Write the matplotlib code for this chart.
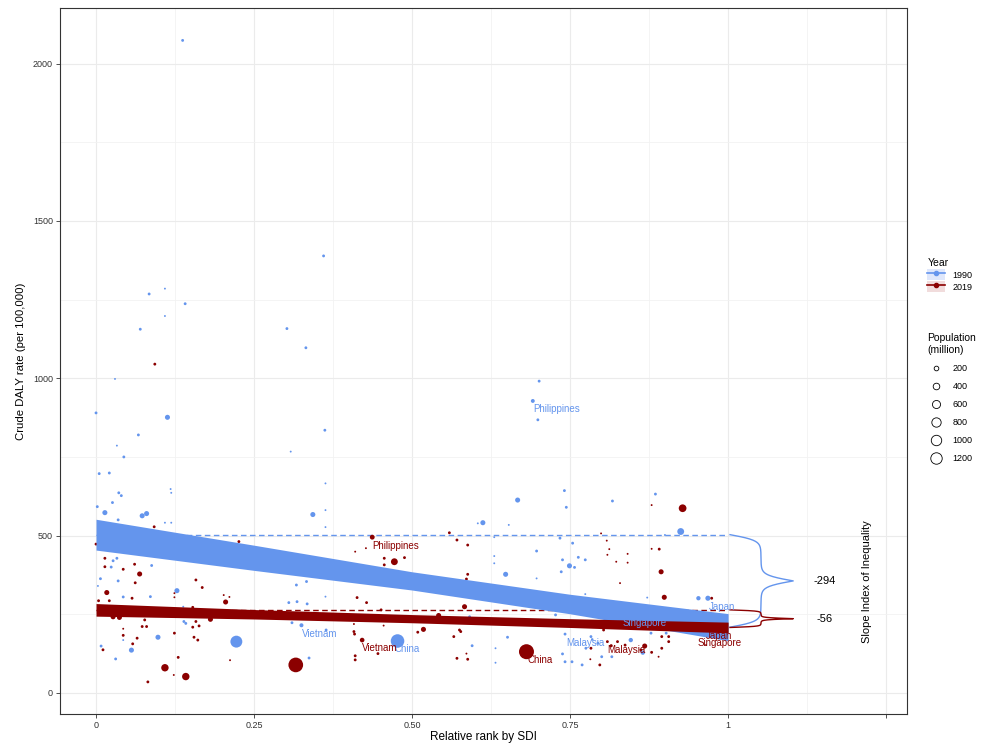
import matplotlib.pyplot as plt
import numpy as np
from matplotlib.lines import Line2D
from matplotlib.patches import Rectangle
from matplotlib.legend_handler import HandlerTuple

plt.rcParams['font.family'] = ['Liberation Sans', 'DejaVu Sans']

blue = '#6495ED'
red = '#8B0000'

# 1990: relative rank by SDI, crude DALY rate, population (million)
rank_1990 = [0.002, 0.014, 0.036, 0.040, 0.026, 0.035, 0.073, 0.080, 0.118, 0.119,
             0.109, 0.119, 0.027, 0.033, 0.024, 0.088, 0.007, 0.003, 0.035, 0.043,
             0.086, 0.128, 0.138, 0.139, 0.142, 0.043, 0.098, 0.056, 0.008, 0.031,
             0.222, 0.317, 0.333, 0.343, 0.363, 0.363, 0.363, 0.305, 0.318, 0.334,
             0.363, 0.310, 0.325, 0.364, 0.337, 0.477, 0.595, 0.591, 0.604, 0.741,
             0.885, 0.667, 0.744, 0.817, 0.612, 0.653, 0.925, 0.734, 0.754, 0.630,
             0.630, 0.630, 0.697, 0.738, 0.763, 0.774, 0.749, 0.757, 0.736, 0.648,
             0.697, 0.774, 0.872, 0.953, 0.968, 0.727, 0.742, 0.651, 0.783, 0.794,
             0.775, 0.738, 0.742, 0.753, 0.769, 0.632, 0.632, 0.800, 0.816, 0.846,
             0.865, 0.878, 0.902, 0.900, 0.360, 0.084, 0.109, 0.141, 0.109, 0.070,
             0.302, 0.332, 0.030, 0.000, 0.113, 0.067, 0.033, 0.044, 0.005, 0.021,
             0.362, 0.308, 0.137, 0.701, 0.691, 0.699, 0.785, 0.860]
daly_1990 = [592, 573, 636, 627, 605, 550, 563, 570, 648, 636,
             541, 541, 420, 428, 400, 405, 363, 340, 356, 305,
             306, 325, 274, 227, 221, 168, 177, 136, 149, 108,
             163, 343, 354, 567, 666, 581, 527, 287, 290, 283,
             306, 223, 215, 200, 111, 165, 150, 242, 539, 643,
             632, 613, 590, 610, 541, 534, 513, 492, 476, 495,
             435, 412, 451, 423, 431, 423, 404, 399, 385, 377,
             364, 314, 303, 301, 301, 248, 187, 177, 179, 158,
             142, 124, 99, 99, 89, 142, 96, 115, 115, 168,
             128, 190, 190, 502, 1389, 1268, 1285, 1237, 1198, 1156,
             1158, 1097, 998, 890, 876, 820, 786, 750, 697, 699,
             835, 767, 2074, 991, 928, 868, 170, 205]
pop_1990 = [25, 120, 25, 25, 25, 25, 120, 120, 6, 6,
            6, 6, 25, 25, 25, 25, 25, 6, 25, 25,
            25, 120, 6, 25, 25, 6, 120, 120, 25, 25,
            870, 25, 25, 120, 6, 6, 6, 25, 25, 25,
            6, 25, 66, 25, 25, 1150, 25, 25, 6, 25,
            25, 120, 25, 25, 120, 6, 250, 25, 25, 6,
            6, 6, 25, 25, 25, 25, 120, 25, 25, 120,
            6, 6, 6, 80, 123, 25, 25, 25, 25, 25,
            25, 25, 25, 25, 25, 6, 6, 25, 25, 80,
            80, 25, 25, 6, 25, 25, 6, 25, 6, 25,
            25, 25, 6, 25, 120, 25, 6, 25, 25, 25,
            25, 6, 25, 25, 61, 25, 18, 3]

# 2019
rank_2019 = [0.000, 0.092, 0.226, 0.014, 0.014, 0.043, 0.061, 0.069, 0.062, 0.017,
             0.057, 0.004, 0.021, 0.158, 0.168, 0.124, 0.124, 0.202, 0.211, 0.205,
             0.153, 0.027, 0.037, 0.077, 0.181, 0.158, 0.163, 0.153, 0.073, 0.080,
             0.043, 0.043, 0.124, 0.155, 0.161, 0.065, 0.058, 0.011, 0.130, 0.212,
             0.109, 0.142, 0.123, 0.082, 0.316, 0.410, 0.427, 0.437, 0.456, 0.456,
             0.472, 0.488, 0.413, 0.428, 0.451, 0.408, 0.408, 0.409, 0.421, 0.410,
             0.410, 0.446, 0.455, 0.498, 0.509, 0.518, 0.542, 0.566, 0.575, 0.577,
             0.571, 0.588, 0.586, 0.583, 0.588, 0.586, 0.588, 0.559, 0.571, 0.093,
             0.928, 0.879, 0.891, 0.879, 0.799, 0.808, 0.812, 0.809, 0.823, 0.841,
             0.841, 0.894, 0.829, 0.899, 0.974, 0.803, 0.809, 0.825, 0.837, 0.868,
             0.862, 0.879, 0.894, 0.895, 0.906, 0.906, 0.895, 0.890, 0.783, 0.797,
             0.782, 0.965, 0.681, 0.815]
daly_2019 = [473, 528, 481, 428, 401, 393, 409, 378, 350, 319,
             301, 293, 293, 359, 335, 317, 304, 311, 305, 289,
             272, 242, 240, 232, 234, 227, 213, 209, 211, 211,
             204, 183, 190, 177, 168, 174, 156, 137, 113, 104,
             80, 52, 57, 35, 89, 449, 460, 495, 428, 407,
             417, 430, 303, 287, 264, 219, 195, 187, 168, 118,
             105, 125, 214, 227, 193, 202, 246, 179, 200, 195,
             110, 107, 125, 274, 377, 362, 470, 509, 486, 1045,
             587, 597, 457, 458, 507, 484, 457, 439, 417, 442,
             414, 385, 349, 304, 301, 200, 163, 163, 152, 149,
             137, 129, 202, 179, 179, 163, 142, 115, 142, 89,
             107, 152, 131, 150]
pop_2019 = [25, 25, 25, 25, 25, 25, 25, 120, 25, 120,
            25, 25, 25, 25, 25, 6, 6, 6, 6, 120,
            25, 120, 120, 25, 120, 25, 25, 25, 25, 25,
            6, 25, 25, 25, 25, 25, 25, 25, 25, 6,
            300, 300, 6, 25, 1366, 6, 6, 108, 25, 25,
            250, 25, 25, 25, 25, 6, 25, 25, 96, 25,
            25, 25, 6, 25, 25, 120, 120, 25, 25, 25,
            25, 25, 6, 120, 25, 25, 25, 25, 25, 25,
            330, 6, 25, 6, 6, 6, 6, 6, 6, 6,
            6, 120, 6, 120, 25, 25, 25, 25, 25, 120,
            25, 25, 25, 25, 25, 25, 25, 6, 25, 25,
            6, 6, 1430, 32]

# regression: value at rank 0 and slope index of inequality
intercept_1990, sii_1990 = 503, -294
intercept_2019, sii_2019 = 264, -56

# half width of the confidence band along the rank axis
band_x = [0, 0.25, 0.5, 0.75, 1]
halfwidth_1990 = [49, 40, 29, 31, 43]
halfwidth_2019 = [20, 15, 13, 14, 17]

# labelled countries: name, rank, rate
labels_1990 = [('Philippines', 0.691, 902), ('Vietnam', 0.326, 188), ('China', 0.472, 140),
               ('Malaysia', 0.744, 159), ('Singapore', 0.833, 222), ('Japan', 0.970, 273)]
labels_2019 = [('Philippines', 0.437, 468), ('Vietnam', 0.421, 143), ('China', 0.683, 105),
               ('Malaysia', 0.809, 137), ('Japan', 0.965, 181), ('Singapore', 0.951, 159)]

legend_pops = [200, 400, 600, 800, 1000, 1200]


def marker_area(pop):
    # diameter in pixels grows with sqrt(population); scatter wants points^2
    d = 1.0 + 0.37 * np.sqrt(np.asarray(pop, dtype=float))
    return (d * 0.72) ** 2


def brace(x0, bend, tip, y_top, y_bot, n=120):
    u = np.linspace(0, 1, n)

    def s(c, k=16):
        f = 1 / (1 + np.exp(-k * (u - c)))
        return (f - f[0]) / (f[-1] - f[0])

    half = x0 + (bend - x0) * s(0) + (tip - bend) * s(1)
    mid = (y_top + y_bot) / 2
    xs = np.concatenate([half, half[::-1]])
    ys = np.concatenate([y_top + (mid - y_top) * u, mid + (y_bot - mid) * u])
    return xs, ys


fig = plt.figure(figsize=(9.87, 7.45), dpi=100)
ax = fig.add_axes([60 / 987, 1 - 714 / 745, 847 / 987, 705.7 / 745])

ax.scatter(rank_1990, daly_1990, s=marker_area(pop_1990), color=blue, lw=0, zorder=3)
ax.scatter(rank_2019, daly_2019, s=marker_area(pop_2019), color=red, lw=0, zorder=3)

bx = np.array(band_x)
for icpt, sii, col in [(intercept_1990, sii_1990, blue), (intercept_2019, sii_2019, red)]:
    ax.plot([0, 1], [icpt, icpt], color=col, lw=1.0, ls=(0, (4, 2.5)), zorder=2)
    xs, ys = brace(1.003, 1.052, 1.103, icpt, icpt + sii)
    ax.plot(xs, ys, color=col, lw=1.0, zorder=4)
    ax.text(1.152, icpt + sii / 2, str(sii), ha='center', va='center', fontsize=8, color='black')

fit_1990 = intercept_1990 + sii_1990 * bx
fit_2019 = intercept_2019 + sii_2019 * bx
ax.fill_between(bx, fit_1990 - halfwidth_1990, fit_1990 + halfwidth_1990,
                color=blue, lw=0, zorder=4)
ax.fill_between(bx, fit_2019 - halfwidth_2019, fit_2019 + halfwidth_2019,
                color=red, lw=0, zorder=5)

for name, x, y in labels_1990:
    ax.text(x, y, name, color=blue, fontsize=7, ha='left', va='center', zorder=6)
for name, x, y in labels_2019:
    ax.text(x, y, name, color=red, fontsize=7, ha='left', va='center', zorder=6)

ax.text(1.22, 355, 'Slope Index of Inequality', rotation=90, ha='center', va='center', fontsize=8)

ax.set_xlim(-0.057, 1.283)
ax.set_ylim(-67, 2176)
ax.set_xticks([0, 0.25, 0.5, 0.75, 1, 1.25])
ax.set_xticklabels(['0', '0.25', '0.50', '0.75', '1', ''])
ax.set_xticks([0.125, 0.375, 0.625, 0.875, 1.125], minor=True)
ax.set_yticks([0, 500, 1000, 1500, 2000])
ax.set_yticks([250, 750, 1250, 1750], minor=True)
ax.grid(which='major', color='#ebebeb', lw=0.8)
ax.grid(which='minor', color='#f2f2f2', lw=0.6)
ax.set_axisbelow(True)
ax.tick_params(which='major', direction='out', length=3, width=0.6, color='#333333',
               labelsize=6.5, labelcolor='#333333', pad=2)
ax.tick_params(which='minor', length=0)
for sp in ax.spines.values():
    sp.set_color('#333333')
    sp.set_linewidth(0.8)
ax.set_xlabel('Relative rank by SDI', fontsize=8.5, labelpad=1)
ax.set_ylabel('Crude DALY rate (per 100,000)', fontsize=8.2, labelpad=5)

# legends
year_handles = [
    (Rectangle((0, 0), 1, 1, facecolor='#dfe7fb', edgecolor='none'),
     Line2D([], [], color=blue, lw=1.2, marker='o', markersize=3)),
    (Rectangle((0, 0), 1, 1, facecolor='#f1dcdc', edgecolor='none'),
     Line2D([], [], color=red, lw=1.2, marker='o', markersize=3)),
]
fig.legend(year_handles, ['1990', '2019'], title='Year', loc='upper left',
           bbox_to_anchor=(921 / 987, 1 - 252 / 745), frameon=False, fontsize=6.5,
           title_fontsize=7.5, alignment='left', handlelength=2.0, handleheight=1.6,
           labelspacing=0.05, handletextpad=0.8, borderpad=0.2,
           handler_map={tuple: HandlerTuple(ndivide=1, pad=0)})

pop_handles = [Line2D([], [], ls='none', marker='o', markerfacecolor='none', markeredgecolor='black',
                      markeredgewidth=0.6, markersize=0.33 * np.sqrt(p) * 0.72)
               for p in legend_pops]
fig.legend(pop_handles, [str(p) for p in legend_pops], title='Population\n(million)',
           loc='upper left', bbox_to_anchor=(921 / 987, 1 - 327 / 745), frameon=False,
           fontsize=6.5, title_fontsize=7.5, alignment='left', handlelength=2.0,
           labelspacing=1.0, handletextpad=0.8, borderpad=0.2)

fig.savefig('out.png', dpi=100)
